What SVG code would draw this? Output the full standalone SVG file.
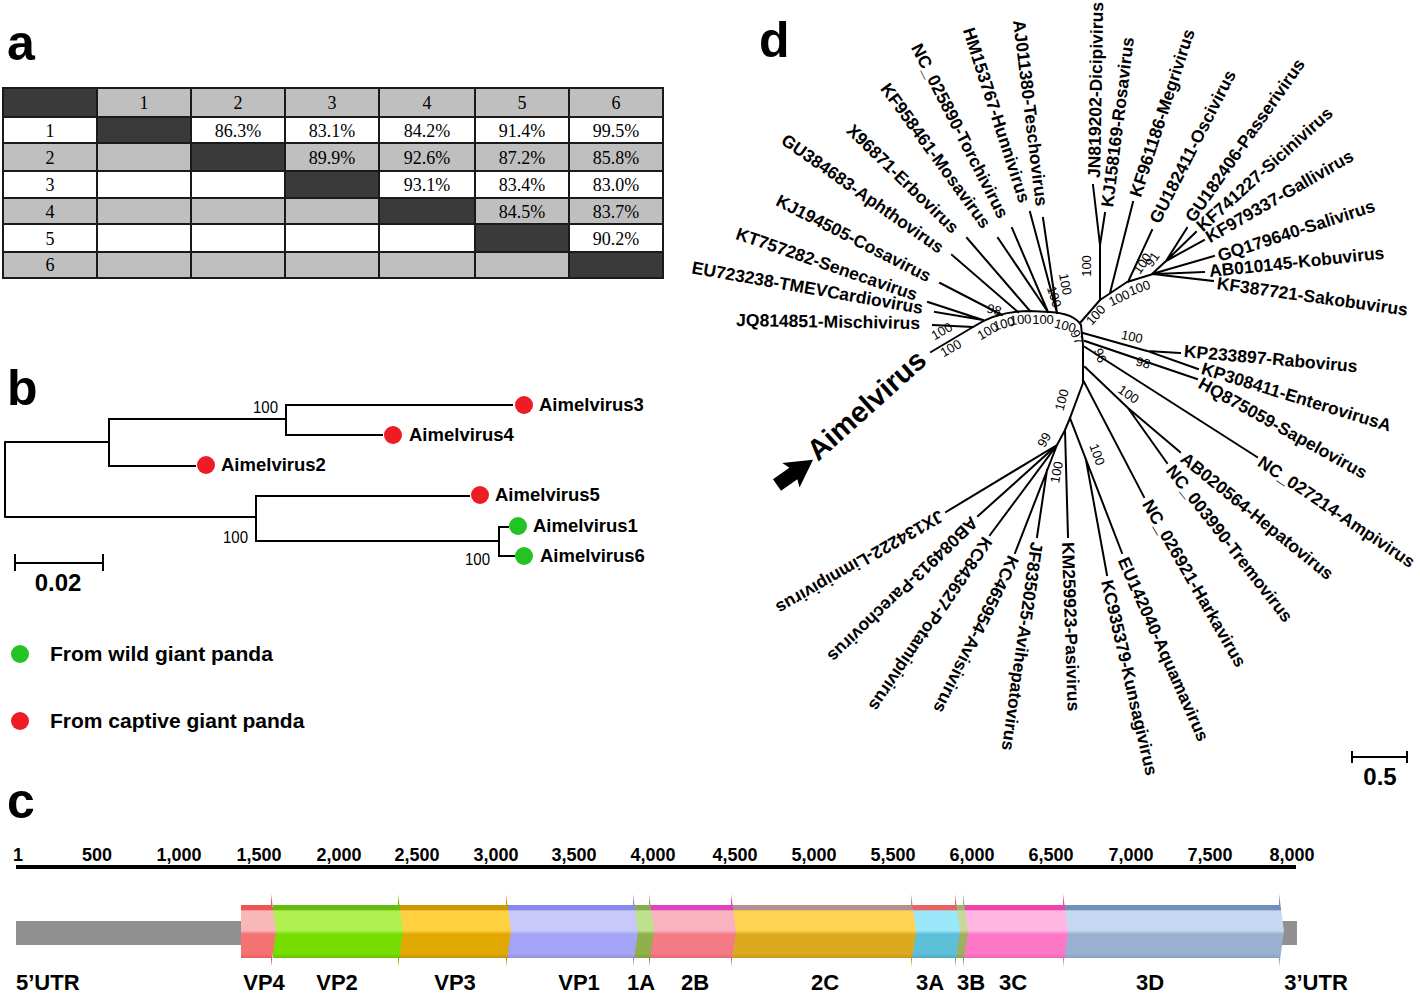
<svg xmlns="http://www.w3.org/2000/svg" width="1420" height="994" viewBox="0 0 1420 994">
<defs>
<style>
.pl{font-family:"Liberation Sans",Arial,sans-serif;font-weight:bold;font-size:50px;fill:#000}
.tb{font-family:"Liberation Serif","Times New Roman",serif;font-size:18px;text-anchor:middle;fill:#000}
.grid{stroke:#1a1a1a;stroke-width:2;fill:none}
.br{stroke:#000;stroke-width:2;fill:none;stroke-linecap:square;stroke-linejoin:round}
.bl{font-family:"Liberation Sans",Arial,sans-serif;font-weight:bold;font-size:18.5px;fill:#000}
.bn{font-family:"Liberation Sans",Arial,sans-serif;font-size:16px;fill:#000}
.lg{font-family:"Liberation Sans",Arial,sans-serif;font-weight:bold;font-size:21px;fill:#000}
.rl{font-family:"Liberation Sans",Arial,sans-serif;font-weight:bold;font-size:18px;text-anchor:middle;fill:#000}
.gl{font-family:"Liberation Sans",Arial,sans-serif;font-weight:bold;font-size:22px;text-anchor:middle;fill:#000}
.tl{font-family:"Liberation Sans",Arial,sans-serif;font-weight:bold;font-size:17.5px;fill:#000}
.tl.e{text-anchor:end}
.big{font-family:"Liberation Sans",Arial,sans-serif;font-weight:bold;font-size:29px;fill:#000}
.sc{font-family:"Liberation Sans",Arial,sans-serif;font-weight:bold;font-size:24px;text-anchor:middle;fill:#000}
.bs{font-family:"Liberation Sans",Arial,sans-serif;font-size:13px;text-anchor:middle;fill:#000}
.red{fill:#ee1c24}
.grn{fill:#22c322}
</style>
<linearGradient id="gVP4" gradientUnits="userSpaceOnUse" x1="0" y1="905" x2="0" y2="958"><stop offset="0" stop-color="#ee5555"/><stop offset="0.09" stop-color="#ee5555"/><stop offset="0.11" stop-color="#f9b8b8"/><stop offset="0.48" stop-color="#f9b8b8"/><stop offset="0.55" stop-color="#f47272"/><stop offset="0.92" stop-color="#f47272"/><stop offset="1" stop-color="#e06060"/></linearGradient>
<linearGradient id="gVP2" gradientUnits="userSpaceOnUse" x1="0" y1="905" x2="0" y2="958"><stop offset="0" stop-color="#66bb11"/><stop offset="0.09" stop-color="#66bb11"/><stop offset="0.11" stop-color="#b0f050"/><stop offset="0.48" stop-color="#b0f050"/><stop offset="0.55" stop-color="#77dd00"/><stop offset="0.92" stop-color="#77dd00"/><stop offset="1" stop-color="#66c400"/></linearGradient>
<linearGradient id="gVP3" gradientUnits="userSpaceOnUse" x1="0" y1="905" x2="0" y2="958"><stop offset="0" stop-color="#cc9900"/><stop offset="0.09" stop-color="#cc9900"/><stop offset="0.11" stop-color="#ffd040"/><stop offset="0.48" stop-color="#ffd040"/><stop offset="0.55" stop-color="#e0a800"/><stop offset="0.92" stop-color="#e0a800"/><stop offset="1" stop-color="#c89400"/></linearGradient>
<linearGradient id="gVP1" gradientUnits="userSpaceOnUse" x1="0" y1="905" x2="0" y2="958"><stop offset="0" stop-color="#8888ee"/><stop offset="0.09" stop-color="#8888ee"/><stop offset="0.11" stop-color="#c8c8fa"/><stop offset="0.48" stop-color="#c8c8fa"/><stop offset="0.55" stop-color="#a4a4f6"/><stop offset="0.92" stop-color="#a4a4f6"/><stop offset="1" stop-color="#9090e4"/></linearGradient>
<linearGradient id="g1A" gradientUnits="userSpaceOnUse" x1="0" y1="905" x2="0" y2="958"><stop offset="0" stop-color="#88aa55"/><stop offset="0.09" stop-color="#88aa55"/><stop offset="0.11" stop-color="#bce28e"/><stop offset="0.48" stop-color="#bce28e"/><stop offset="0.55" stop-color="#90b04c"/><stop offset="0.92" stop-color="#90b04c"/><stop offset="1" stop-color="#80a040"/></linearGradient>
<linearGradient id="g2B" gradientUnits="userSpaceOnUse" x1="0" y1="905" x2="0" y2="958"><stop offset="0" stop-color="#dd44bb"/><stop offset="0.09" stop-color="#dd44bb"/><stop offset="0.11" stop-color="#f9b3c0"/><stop offset="0.48" stop-color="#f9b3c0"/><stop offset="0.55" stop-color="#f47a86"/><stop offset="0.92" stop-color="#f47a86"/><stop offset="1" stop-color="#e06a76"/></linearGradient>
<linearGradient id="g2C" gradientUnits="userSpaceOnUse" x1="0" y1="905" x2="0" y2="958"><stop offset="0" stop-color="#b09090"/><stop offset="0.09" stop-color="#b09090"/><stop offset="0.11" stop-color="#ffd452"/><stop offset="0.48" stop-color="#ffd452"/><stop offset="0.55" stop-color="#dcaa1e"/><stop offset="0.92" stop-color="#dcaa1e"/><stop offset="1" stop-color="#c89818"/></linearGradient>
<linearGradient id="g3A" gradientUnits="userSpaceOnUse" x1="0" y1="905" x2="0" y2="958"><stop offset="0" stop-color="#ee6060"/><stop offset="0.09" stop-color="#ee6060"/><stop offset="0.11" stop-color="#9ae8fa"/><stop offset="0.48" stop-color="#9ae8fa"/><stop offset="0.55" stop-color="#5dbfd8"/><stop offset="0.92" stop-color="#5dbfd8"/><stop offset="1" stop-color="#50acc4"/></linearGradient>
<linearGradient id="g3B" gradientUnits="userSpaceOnUse" x1="0" y1="905" x2="0" y2="958"><stop offset="0" stop-color="#a0b070"/><stop offset="0.09" stop-color="#a0b070"/><stop offset="0.11" stop-color="#c8d89a"/><stop offset="0.48" stop-color="#c8d89a"/><stop offset="0.55" stop-color="#9cb060"/><stop offset="0.92" stop-color="#9cb060"/><stop offset="1" stop-color="#8ca050"/></linearGradient>
<linearGradient id="g3C" gradientUnits="userSpaceOnUse" x1="0" y1="905" x2="0" y2="958"><stop offset="0" stop-color="#ee44aa"/><stop offset="0.09" stop-color="#ee44aa"/><stop offset="0.11" stop-color="#ffb6e2"/><stop offset="0.48" stop-color="#ffb6e2"/><stop offset="0.55" stop-color="#ff78c8"/><stop offset="0.92" stop-color="#ff78c8"/><stop offset="1" stop-color="#ee66b6"/></linearGradient>
<linearGradient id="g3D" gradientUnits="userSpaceOnUse" x1="0" y1="905" x2="0" y2="958"><stop offset="0" stop-color="#7090b8"/><stop offset="0.09" stop-color="#7090b8"/><stop offset="0.11" stop-color="#c4d8f2"/><stop offset="0.48" stop-color="#c4d8f2"/><stop offset="0.55" stop-color="#9ab0d0"/><stop offset="0.92" stop-color="#9ab0d0"/><stop offset="1" stop-color="#88a0c0"/></linearGradient>
</defs>
<rect width="1420" height="994" fill="#fff"/>

<!-- Panel labels -->
<g id="panel-labels">
<text class="pl" x="7" y="60">a</text>
<text class="pl" x="7" y="405">b</text>
<text class="pl" x="7" y="818">c</text>
<text class="pl" x="759" y="57">d</text>
</g>

<!-- Panel a: identity table -->
<g id="table">
<rect x="3" y="88" width="660" height="29" fill="#bfbfbf"/>
<rect x="3" y="117" width="660" height="26" fill="#fff"/>
<rect x="3" y="143" width="660" height="28" fill="#bfbfbf"/>
<rect x="3" y="171" width="660" height="27" fill="#fff"/>
<rect x="3" y="198" width="660" height="26" fill="#bfbfbf"/>
<rect x="3" y="224" width="660" height="28" fill="#fff"/>
<rect x="3" y="252" width="660" height="26" fill="#bfbfbf"/>
<g fill="#3a3a3a">
<rect x="3" y="88" width="94" height="29"/>
<rect x="97" y="117" width="94" height="26"/>
<rect x="191" y="143" width="94" height="28"/>
<rect x="285" y="171" width="94" height="27"/>
<rect x="379" y="198" width="96" height="26"/>
<rect x="475" y="224" width="94" height="28"/>
<rect x="569" y="252" width="94" height="26"/>
</g>
<path class="grid" d="M97,88V278M191,88V278M285,88V278M379,88V278M475,88V278M569,88V278M3,117H663M3,143H663M3,171H663M3,198H663M3,224H663M3,252H663"/>
<rect class="grid" x="3" y="88" width="660" height="190" stroke-width="2.5"/>
<g class="tb">
<text x="144" y="109">1</text><text x="238" y="109">2</text><text x="332" y="109">3</text><text x="427" y="109">4</text><text x="522" y="109">5</text><text x="616" y="109">6</text>
<text x="50" y="137">1</text><text x="50" y="164">2</text><text x="50" y="191">3</text><text x="50" y="218">4</text><text x="50" y="245">5</text><text x="50" y="271">6</text>
<text x="238" y="137">86.3%</text><text x="332" y="137">83.1%</text><text x="427" y="137">84.2%</text><text x="522" y="137">91.4%</text><text x="616" y="137">99.5%</text>
<text x="332" y="164">89.9%</text><text x="427" y="164">92.6%</text><text x="522" y="164">87.2%</text><text x="616" y="164">85.8%</text>
<text x="427" y="191">93.1%</text><text x="522" y="191">83.4%</text><text x="616" y="191">83.0%</text>
<text x="522" y="218">84.5%</text><text x="616" y="218">83.7%</text>
<text x="616" y="245">90.2%</text>
</g>
</g>

<!-- Panel b: Aimelvirus tree -->
<g id="tree-b-connectors">
<path class="br" d="M109,442H5V517H256M109,419V466M109,419H286M286,405V435M286,405H512M286,435H382M109,466H195M256,496V541M256,496H469M256,541H499M499,527V556M499,527H508M499,556H514"/>
<path class="br" d="M15,563H103M15,555V570M103,555V570"/>
</g>
<g id="node-aimelvirus3"><circle class="red" cx="524" cy="405" r="9"/><text class="bl" x="539" y="411">Aimelvirus3</text></g>
<g id="node-aimelvirus4"><circle class="red" cx="393" cy="435" r="9"/><text class="bl" x="409" y="441">Aimelvirus4</text></g>
<g id="node-aimelvirus2"><circle class="red" cx="206" cy="465" r="9"/><text class="bl" x="221" y="471">Aimelvirus2</text></g>
<g id="node-aimelvirus5"><circle class="red" cx="480" cy="495" r="9"/><text class="bl" x="495" y="501">Aimelvirus5</text></g>
<g id="node-aimelvirus1"><circle class="grn" cx="518" cy="526" r="9"/><text class="bl" x="533" y="532">Aimelvirus1</text></g>
<g id="node-aimelvirus6"><circle class="grn" cx="524" cy="556" r="9"/><text class="bl" x="540" y="562">Aimelvirus6</text></g>
<g id="tree-b-support">
<text class="bn" x="253" y="413" textLength="25" lengthAdjust="spacingAndGlyphs">100</text>
<text class="bn" x="223" y="543" textLength="25" lengthAdjust="spacingAndGlyphs">100</text>
<text class="bn" x="465" y="565" textLength="25" lengthAdjust="spacingAndGlyphs">100</text>
<text class="sc" x="58" y="591">0.02</text>
</g>
<g id="legend">
<circle class="grn" cx="20" cy="654" r="9"/><text class="lg" x="50" y="661">From wild giant panda</text>
<circle class="red" cx="20" cy="721" r="9"/><text class="lg" x="50" y="728">From captive giant panda</text>
</g>

<!-- Panel c: genome map -->
<g id="ruler">
<rect x="16" y="865" width="1280" height="4" fill="#000"/>
<g class="rl">
<text x="18" y="861">1</text><text x="97" y="861">500</text><text x="179" y="861">1,000</text><text x="259" y="861">1,500</text><text x="339" y="861">2,000</text><text x="417" y="861">2,500</text><text x="496" y="861">3,000</text><text x="574" y="861">3,500</text><text x="653" y="861">4,000</text><text x="735" y="861">4,500</text><text x="814" y="861">5,000</text><text x="893" y="861">5,500</text><text x="972" y="861">6,000</text><text x="1051" y="861">6,500</text><text x="1131" y="861">7,000</text><text x="1210" y="861">7,500</text><text x="1292" y="861">8,000</text>
</g>
</g>
<g id="genome">
<rect x="16" y="921" width="226" height="24" fill="#909090"/>
<rect x="1278" y="921" width="19" height="24" fill="#909090"/>
<polygon fill="url(#g3D)" points="1063,905 1279,905 1279,894 1284,931 1279,967 1279,958 1063,958"/>
<polygon fill="url(#g3C)" points="963,905 1063,905 1063,894 1068,931 1063,967 1063,958 963,958"/>
<polygon fill="url(#g3B)" points="955,905 963,905 963,894 968,931 963,967 963,958 955,958"/>
<polygon fill="url(#g3A)" points="911,905 955,905 955,894 960,931 955,967 955,958 911,958"/>
<polygon fill="url(#g2C)" points="731,905 911,905 911,894 916,931 911,967 911,958 731,958"/>
<polygon fill="url(#g2B)" points="649,905 731,905 731,894 736,931 731,967 731,958 649,958"/>
<polygon fill="url(#g1A)" points="633,905 649,905 649,894 654,931 649,967 649,958 633,958"/>
<polygon fill="url(#gVP1)" points="506,905 633,905 633,894 638,931 633,967 633,958 506,958"/>
<polygon fill="url(#gVP3)" points="398,905 506,905 506,894 511,931 506,967 506,958 398,958"/>
<polygon fill="url(#gVP2)" points="273,905 398,905 398,894 403,931 398,967 398,958 273,958"/>
<polygon fill="url(#gVP4)" points="241,905 271,905 271,894 276,931 271,967 271,958 241,958"/>
</g>
<g id="genome-labels" class="gl">
<text x="16" y="990" text-anchor="start">5’UTR</text>
<text x="264" y="990">VP4</text>
<text x="337" y="990">VP2</text>
<text x="455" y="990">VP3</text>
<text x="579" y="990">VP1</text>
<text x="641" y="990">1A</text>
<text x="695" y="990">2B</text>
<text x="825" y="990">2C</text>
<text x="930" y="990">3A</text>
<text x="971" y="990">3B</text>
<text x="1013" y="990">3C</text>
<text x="1150" y="990">3D</text>
<text x="1316" y="990">3’UTR</text>
</g>

<!-- Panel d: unrooted picornavirus tree -->
<g id="tree-d-connectors">
<path class="br" d="M931,352L973,327C990,316 1010,311 1030,311L1050,312C1067,313 1076,317 1081,325L1083,345L1083,383L1070,418"/>
<path class="br" d="M933,325L973,327M935,312L983,320M928,302L983,320M940,283L1002,315M952,255L1018,312M967,238L1030,311M998,238L1048,312M1012,228L1048,312M1030,212L1057,313M1043,218L1057,313"/>
<path class="br" d="M1080,323L1100,300L1127,282L1153,274L1162,275M1093,185L1100,245M1105,213L1100,245L1100,300M1133,202L1110,293M1152,230L1128,282M1187,228L1166,261M1196,232L1166,261M1204,240L1166,261L1152,274M1214,256L1152,274M1204,272L1155,274M1213,281L1162,275"/>
<path class="br" d="M1083,333L1147,351L1180,353M1147,351L1198,369M1085,341L1197,379M1085,347L1257,457M1085,367L1128,408L1180,452M1128,408L1167,463M1083,380L1144,497"/>
<path class="br" d="M1070,418L1122,553M1086,460L1107,575M1070,418L1065,430L1068,537M1065,430L1057,445L946,512M1057,445L978,516M1057,445L990,535M1057,445L1015,553M1047,470L1037,537"/>
<path class="br" d="M1352,757H1407M1352,752V762M1407,752V762"/>
</g>
<g id="tree-d-support" class="bs">
<text transform="translate(944,335) rotate(-30)">100</text>
<text transform="translate(953,352) rotate(-30)">100</text>
<text transform="translate(990,335) rotate(-30)">100</text>
<text transform="translate(1005,328) rotate(-15)">100</text>
<text transform="translate(1021,324) rotate(-5)">100</text>
<text transform="translate(1043,324)">100</text>
<text transform="translate(1064,330) rotate(15)">100</text>
<text transform="translate(1073,339) rotate(65)">97</text>
<text transform="translate(993,314) rotate(15)">98</text>
<text transform="translate(1050,298) rotate(72)">100</text>
<text transform="translate(1061,285) rotate(80)">100</text>
<text transform="translate(1091,266) rotate(-90)">100</text>
<text transform="translate(1099,318) rotate(-48)">100</text>
<text transform="translate(1121,302) rotate(-25)">100</text>
<text transform="translate(1141,292) rotate(-20)">100</text>
<text transform="translate(1146,266) rotate(-55)">100</text>
<text transform="translate(1156,262) rotate(-55)">91</text>
<text transform="translate(1131,341) rotate(12)">100</text>
<text transform="translate(1142,367) rotate(15)">98</text>
<text transform="translate(1096,357) rotate(70)">96</text>
<text transform="translate(1126,398) rotate(35)">100</text>
<text transform="translate(1066,401) rotate(-75)">100</text>
<text transform="translate(1048,442) rotate(-60)">99</text>
<text transform="translate(1093,456) rotate(70)">100</text>
<text transform="translate(1061,473) rotate(-80)">100</text>
</g>
<g id="tree-d-labels">
<g id="t-mischi"><text class="tl e" dy=".35em" transform="translate(920,323) rotate(1)">JQ814851-Mischivirus</text></g>
<g id="t-cardio"><text class="tl e" dy=".35em" transform="translate(923,308) rotate(10)">EU723238-TMEVCardiovirus</text></g>
<g id="t-seneca"><text class="tl e" dy=".35em" transform="translate(917,295) rotate(19)">KT757282-Senecavirus</text></g>
<g id="t-cosa"><text class="tl e" dy=".35em" transform="translate(930,277) rotate(27)">KJ194505-Cosavirus</text></g>
<g id="t-aphtho"><text class="tl e" dy=".35em" transform="translate(942,249) rotate(35)">GU384683-Aphthovirus</text></g>
<g id="t-erbo"><text class="tl e" dy=".35em" transform="translate(956,230) rotate(44)">X96871-Erbovirus</text></g>
<g id="t-mosa"><text class="tl e" dy=".35em" transform="translate(987,226) rotate(54)">KF958461-Mosavirus</text></g>
<g id="t-torchi"><text class="tl e" dy=".35em" transform="translate(1004,217) rotate(63)">NC_025890-Torchivirus</text></g>
<g id="t-hunni"><text class="tl e" dy=".35em" transform="translate(1025,202) rotate(72)">HM153767-Hunnivirus</text></g>
<g id="t-tescho"><text class="tl e" dy=".35em" transform="translate(1042,206) rotate(83)">AJ011380-Teschovirus</text></g>
<g id="t-dicipi"><text class="tl" dy=".35em" transform="translate(1094,178) rotate(-89)">JN819202-Dicipivirus</text></g>
<g id="t-rosa"><text class="tl" dy=".35em" transform="translate(1107,207) rotate(-83)">KJ158169-Rosavirus</text></g>
<g id="t-megri"><text class="tl" dy=".35em" transform="translate(1135,196) rotate(-72)">KF961186-Megrivirus</text></g>
<g id="t-osci"><text class="tl" dy=".35em" transform="translate(1154,222) rotate(-63)">GU182411-Oscivirus</text></g>
<g id="t-passeri"><text class="tl" dy=".35em" transform="translate(1189,220) rotate(-55)">GU182406-Passerivirus</text></g>
<g id="t-sicini"><text class="tl" dy=".35em" transform="translate(1199,228) rotate(-42)">KF741227-Sicinivirus</text></g>
<g id="t-galli"><text class="tl" dy=".35em" transform="translate(1207,238) rotate(-30)">KF979337-Gallivirus</text></g>
<g id="t-sali"><text class="tl" dy=".35em" transform="translate(1218,256) rotate(-18)">GQ179640-Salivirus</text></g>
<g id="t-kobu"><text class="tl" dy=".35em" transform="translate(1209,271) rotate(-6)">AB010145-Kobuvirus</text></g>
<g id="t-sako"><text class="tl" dy=".35em" transform="translate(1217,283) rotate(8)">KF387721-Sakobuvirus</text></g>
<g id="t-rabo"><text class="tl" dy=".35em" transform="translate(1184,351) rotate(5)">KP233897-Rabovirus</text></g>
<g id="t-entero"><text class="tl" dy=".35em" transform="translate(1202,368) rotate(17)">KP308411-EnterovirusA</text></g>
<g id="t-sapelo"><text class="tl" dy=".35em" transform="translate(1200,382) rotate(29)">HQ875059-Sapelovirus</text></g>
<g id="t-ampi"><text class="tl" dy=".35em" transform="translate(1260,460) rotate(34)">NC_027214-Ampivirus</text></g>
<g id="t-hepato"><text class="tl" dy=".35em" transform="translate(1183,456) rotate(39)">AB020564-Hepatovirus</text></g>
<g id="t-tremo"><text class="tl" dy=".35em" transform="translate(1170,467) rotate(52)">NC_003990-Tremovirus</text></g>
<g id="t-harka"><text class="tl" dy=".35em" transform="translate(1147,501) rotate(60)">NC_026921-Harkavirus</text></g>
<g id="t-aquama"><text class="tl" dy=".35em" transform="translate(1123,558) rotate(66)">EU142040-Aquamavirus</text></g>
<g id="t-kunsagi"><text class="tl" dy=".35em" transform="translate(1107,580) rotate(77)">KC935379-Kunsagivirus</text></g>
<g id="t-pasi"><text class="tl" dy=".35em" transform="translate(1068,542) rotate(88)">KM259923-Pasivirus</text></g>
<g id="t-avihepato"><text class="tl" dy=".35em" transform="translate(1037,542) rotate(98)">JF835025-Avihepatovirus</text></g>
<g id="t-avisi"><text class="tl" dy=".35em" transform="translate(1014,557) rotate(116)">KC465954-Avisivirus</text></g>
<g id="t-potami"><text class="tl" dy=".35em" transform="translate(988,539) rotate(124)">KC843627-Potamipivirus</text></g>
<g id="t-parecho"><text class="tl" dy=".35em" transform="translate(975,520) rotate(136)">AB084913-Parechovirus</text></g>
<g id="t-limnipi"><text class="tl" dy=".35em" transform="translate(942,515) rotate(150)">JX134222-Limnipivirus</text></g>
<g id="t-aimel">
<polygon points="0,-7 20,-7 17,-15 44,0 17,15 20,7 0,7" transform="translate(777,485) rotate(-35)" fill="#000"/>
<text class="big" transform="translate(818,462) rotate(-42)">Aimelvirus</text>
</g>
<text class="sc" x="1380" y="785">0.5</text>
</g>
</svg>
